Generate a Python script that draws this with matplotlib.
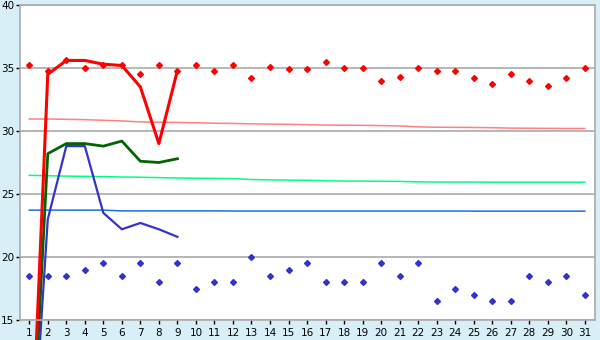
import matplotlib
matplotlib.use('Agg')
import matplotlib.pyplot as plt

days = list(range(1, 32))

# daily points
high_pts = [35.2, 34.8, 35.6, 35.0, 35.2, 35.2, 34.5, 35.2, 34.8, 35.2,
            34.8, 35.2, 34.2, 35.1, 34.9, 34.9, 35.5, 35.0, 35.0, 34.0,
            34.3, 35.0, 34.8, 34.8, 34.2, 33.7, 34.5, 34.0, 33.6, 34.2, 35.0]
low_pts = [18.5, 18.5, 18.5, 19.0, 19.5, 18.5, 19.5, 18.0, 19.5, 17.5,
           18.0, 18.0, 20.0, 18.5, 19.0, 19.5, 18.0, 18.0, 18.0, 19.5,
           18.5, 19.5, 16.5, 17.5, 17.0, 16.5, 16.5, 18.5, 18.0, 18.5, 17.0]

# long-term averages
avg_high = [30.95, 30.95, 30.93, 30.9, 30.85, 30.8, 30.72, 30.7, 30.68, 30.65,
            30.62, 30.6, 30.57, 30.55, 30.53, 30.5, 30.47, 30.46, 30.45, 30.43,
            30.4, 30.33, 30.3, 30.29, 30.28, 30.26, 30.23, 30.22, 30.21, 30.2, 30.2]
avg_mid = [26.48, 26.45, 26.42, 26.4, 26.38, 26.35, 26.33, 26.3, 26.27, 26.25,
           26.24, 26.22, 26.15, 26.12, 26.1, 26.09, 26.05, 26.03, 26.02, 26.01,
           26.0, 25.96, 25.95, 25.95, 25.95, 25.94, 25.94, 25.94, 25.94, 25.94, 25.94]
avg_low = [23.72, 23.72, 23.72, 23.72, 23.72, 23.66, 23.66, 23.66, 23.66, 23.66,
           23.66, 23.65, 23.65, 23.65, 23.65, 23.65, 23.65, 23.65, 23.65, 23.65,
           23.65, 23.65, 23.65, 23.65, 23.64, 23.64, 23.64, 23.64, 23.64, 23.64, 23.64]

# current month (days 1-9)
cur_days = list(range(1, 10))
cur_high = [0, 34.5, 35.6, 35.6, 35.3, 35.2, 33.5, 29.0, 34.8]
cur_mid = [0, 28.2, 29.0, 29.0, 28.8, 29.2, 27.6, 27.5, 27.8]
cur_low = [0, 23.0, 28.8, 28.8, 23.5, 22.2, 22.7, 22.2, 21.6]

fig = plt.figure(figsize=(6, 3.4), dpi=100)
fig.patch.set_facecolor('#d9eff7')
ax = fig.add_axes([20 / 600, 1 - 320 / 340, 575 / 600, 315 / 340])
ax.set_facecolor('white')

ax.set_xlim(0.5, 31.55)
ax.set_ylim(15, 40)
ax.set_yticks([15, 20, 25, 30, 35, 40])
ax.set_xticks(days)
ax.tick_params(labelsize=7.5, length=3, width=1, color='black', pad=1)
ax.tick_params(axis='x', pad=2.5)
for s in ax.spines.values():
    s.set_color('#aaaaaa')
    s.set_linewidth(1.2)
ax.grid(axis='y', color='#aaaaaa', linewidth=1.2)
ax.set_axisbelow(True)

ax.plot(days, avg_high, color='#ff8080', lw=1.1)
ax.plot(days, avg_mid, color='#00ff80', lw=1.1)
ax.plot(days, avg_low, color='#1a70e0', lw=1.1)

ax.plot(days, high_pts, 'D', color='red', ms=3, ls='none')
ax.plot(days, low_pts, 'D', color='#3333cc', ms=3, ls='none')

ax.plot(cur_days, cur_low, color='#3333cc', lw=1.6, clip_on=False)
ax.plot(cur_days, cur_mid, color='#006400', lw=2.0, clip_on=False)
ax.plot(cur_days, cur_high, color='red', lw=2.2, clip_on=False)

plt.savefig('out.png', dpi=100, facecolor=fig.get_facecolor())
